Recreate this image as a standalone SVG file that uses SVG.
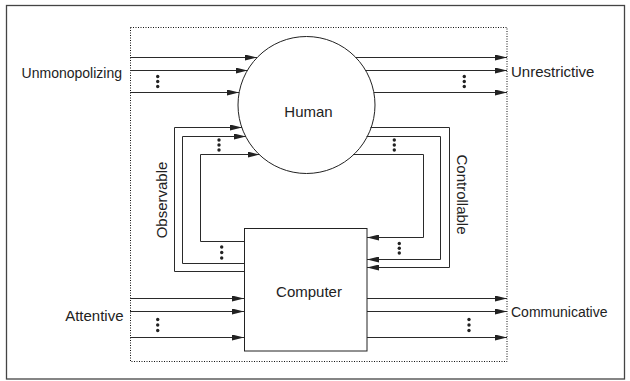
<svg xmlns="http://www.w3.org/2000/svg" width="630" height="381" viewBox="0 0 630 381">
<defs>
<marker id="ah" viewBox="0 0 12 6" refX="12" refY="3" markerWidth="12" markerHeight="6" markerUnits="userSpaceOnUse" orient="auto">
<path d="M0,0 L12,3 L0,6 Z" fill="#222"/>
</marker>
</defs>
<style>
.ln{fill:none;stroke:#2a2a2a;stroke-width:1}
.ar{fill:none;stroke:#2a2a2a;stroke-width:1;marker-end:url(#ah)}
.t{font-family:"Liberation Sans",Arial,sans-serif;fill:#222}
.d{fill:#222}
</style>
<rect x="0" y="0" width="630" height="381" fill="#fff"/>
<rect id="frame" x="6.5" y="5.5" width="618" height="373.5" fill="none" stroke="#444" stroke-width="1.3"/>
<rect id="system" x="130.5" y="27.5" width="376.5" height="334" fill="none" stroke="#111" stroke-width="1" stroke-dasharray="1,1.5"/>

<g id="human">
<circle cx="306.5" cy="105" r="68.5" fill="#fff" stroke="#222" stroke-width="1"/>
<text class="t" x="308.5" y="117" font-size="15" text-anchor="middle">Human</text>
</g>
<g id="computer">
<rect x="244.5" y="228.5" width="122.5" height="122.5" fill="#fff" stroke="#222" stroke-width="1"/>
<text class="t" x="309" y="297" font-size="15" text-anchor="middle">Computer</text>
</g>

<g id="connectors">
<path class="ar" d="M130,57.5 H257"/>
<path class="ar" d="M130,70.5 H247.5"/>
<path class="ar" d="M130,92.5 H239"/>
<path class="ar" d="M355.5,57.5 H507"/>
<path class="ar" d="M365.5,70.5 H507"/>
<path class="ar" d="M374,92.5 H507"/>
<path class="ar" d="M244,271.5 H174.5 V127.5 H242"/>
<path class="ar" d="M244,263.5 H182.5 V136.5 H246"/>
<path class="ar" d="M244,241.5 H200.5 V154.5 H259.5"/>
<path class="ar" d="M370.5,127.5 H449.5 V267.5 H367"/>
<path class="ar" d="M366.5,136.5 H440.5 V259.5 H367"/>
<path class="ar" d="M353,154.5 H423.5 V237.5 H367"/>
<path class="ar" d="M130,298.5 H244"/>
<path class="ar" d="M130,311.5 H244"/>
<path class="ar" d="M130,337.5 H244"/>
<path class="ar" d="M367,298.5 H507"/>
<path class="ar" d="M367,311.5 H507"/>
<path class="ar" d="M367,337.5 H507"/>
</g>

<g id="ellipses">
<circle class="d" cx="157.7" cy="76.5" r="1.7"/><circle class="d" cx="157.7" cy="81.5" r="1.7"/><circle class="d" cx="157.7" cy="86.5" r="1.7"/>
<circle class="d" cx="464.3" cy="76.5" r="1.7"/><circle class="d" cx="464.3" cy="81.5" r="1.7"/><circle class="d" cx="464.3" cy="86.5" r="1.7"/>
<circle class="d" cx="219" cy="140" r="1.7"/><circle class="d" cx="219" cy="145" r="1.7"/><circle class="d" cx="219" cy="150" r="1.7"/>
<circle class="d" cx="221.7" cy="247" r="1.7"/><circle class="d" cx="221.7" cy="252.5" r="1.7"/><circle class="d" cx="221.7" cy="258" r="1.7"/>
<circle class="d" cx="394.3" cy="140" r="1.7"/><circle class="d" cx="394.3" cy="145" r="1.7"/><circle class="d" cx="394.3" cy="150" r="1.7"/>
<circle class="d" cx="399.3" cy="243.5" r="1.7"/><circle class="d" cx="399.3" cy="248.3" r="1.7"/><circle class="d" cx="399.3" cy="253" r="1.7"/>
<circle class="d" cx="157.7" cy="319.5" r="1.7"/><circle class="d" cx="157.7" cy="325" r="1.7"/><circle class="d" cx="157.7" cy="330.5" r="1.7"/>
<circle class="d" cx="469" cy="319.5" r="1.7"/><circle class="d" cx="469" cy="325" r="1.7"/><circle class="d" cx="469" cy="330.5" r="1.7"/>
</g>

<g id="labels">
<text class="t" x="122" y="77.5" font-size="14" text-anchor="end">Unmonopolizing</text>
<text class="t" x="511" y="76.5" font-size="15">Unrestrictive</text>
<text class="t" x="123.5" y="321" font-size="15" text-anchor="end">Attentive</text>
<text class="t" x="511" y="317" font-size="14">Communicative</text>
<text class="t" font-size="15" text-anchor="middle" transform="translate(166.5,200) rotate(-90)">Observable</text>
<text class="t" font-size="15" text-anchor="middle" transform="translate(457,194.5) rotate(90)">Controllable</text>
</g>
</svg>
